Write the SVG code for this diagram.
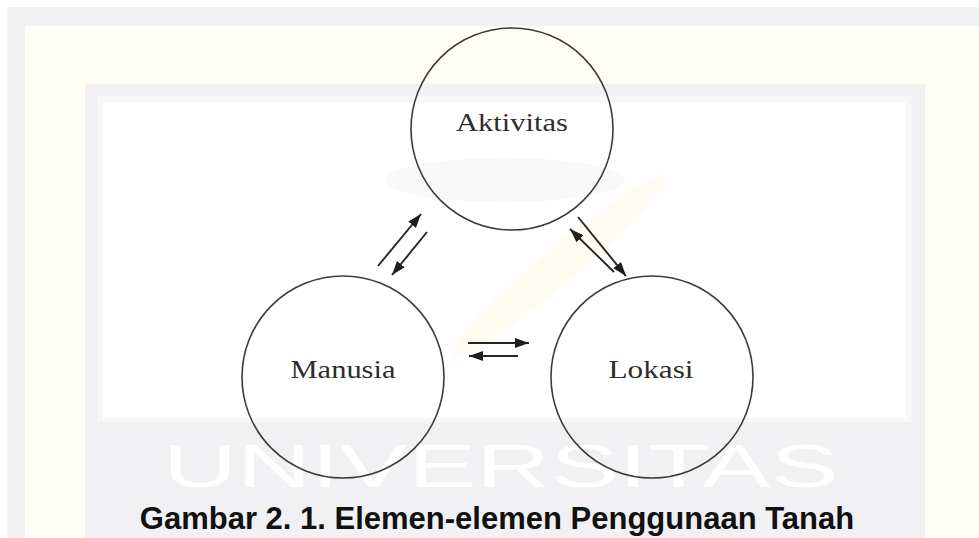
<svg xmlns="http://www.w3.org/2000/svg" width="979" height="538" viewBox="0 0 979 538">
  <defs>
    <marker id="ah" markerUnits="userSpaceOnUse" markerWidth="15" markerHeight="11" refX="14" refY="5" orient="auto">
      <path d="M0,0 L14,5 L0,10 z" fill="#1e1e1e"/>
    </marker>
    <style>
      .node circle { fill: none; stroke: #3c3c3c; stroke-width: 1.6; }
      .node text { font-family: "Liberation Serif", "Times New Roman", serif; font-size: 25px; fill: #2e2e2e; text-anchor: middle; }
      .conn line { stroke: #262626; stroke-width: 1.9; marker-end: url(#ah); }
      .caption { font-family: "Liberation Sans", Arial, sans-serif; font-weight: bold; font-size: 31px; fill: #111; text-anchor: middle; }
      .wm { font-family: "Liberation Sans", Arial, sans-serif; font-size: 62px; fill: #ffffff; }
    </style>
  </defs>

  <!-- background / watermark frame -->
  <rect x="0" y="0" width="979" height="538" fill="#ffffff"/>
  <rect x="7" y="7" width="972" height="531" fill="#f1f1f3"/>
  <rect x="25" y="26" width="954" height="512" fill="#fffdf5"/>
  <rect x="85" y="84" width="840" height="454" fill="#f1f1f3"/>
  <rect x="97" y="96" width="815" height="326" fill="#f7f7f8"/>
  <rect x="103" y="102" width="803" height="316" fill="#ffffff"/>
  <ellipse cx="560" cy="265" rx="140" ry="18" transform="rotate(-40 560 265)" fill="#fffcf3"/>
  <ellipse cx="505" cy="180" rx="120" ry="22" fill="#f8f8f9"/>
  <text class="wm" x="163" y="487" textLength="676" lengthAdjust="spacingAndGlyphs">UNIVERSITAS</text>

  <!-- nodes -->
  <g id="aktivitas" class="node">
    <circle cx="512" cy="129" r="101"/>
    <text x="512" y="131" textLength="112" lengthAdjust="spacingAndGlyphs">Aktivitas</text>
  </g>
  <g id="manusia" class="node">
    <circle cx="343" cy="377" r="101"/>
    <text x="343" y="378" textLength="105" lengthAdjust="spacingAndGlyphs">Manusia</text>
  </g>
  <g id="lokasi" class="node">
    <circle cx="652" cy="377" r="101"/>
    <text x="651" y="378" textLength="85" lengthAdjust="spacingAndGlyphs">Lokasi</text>
  </g>

  <!-- connectors -->
  <g id="connectors" class="conn">
    <line x1="378" y1="266" x2="421" y2="214"/>
    <line x1="427" y1="232" x2="392" y2="275"/>
    <line x1="578" y1="217" x2="626" y2="276"/>
    <line x1="614" y1="272" x2="570" y2="229"/>
    <line x1="468" y1="343" x2="529" y2="343"/>
    <line x1="518" y1="356" x2="469" y2="356"/>
  </g>

  <text class="caption" x="497" y="529">Gambar 2. 1. Elemen-elemen Penggunaan Tanah</text>
</svg>
